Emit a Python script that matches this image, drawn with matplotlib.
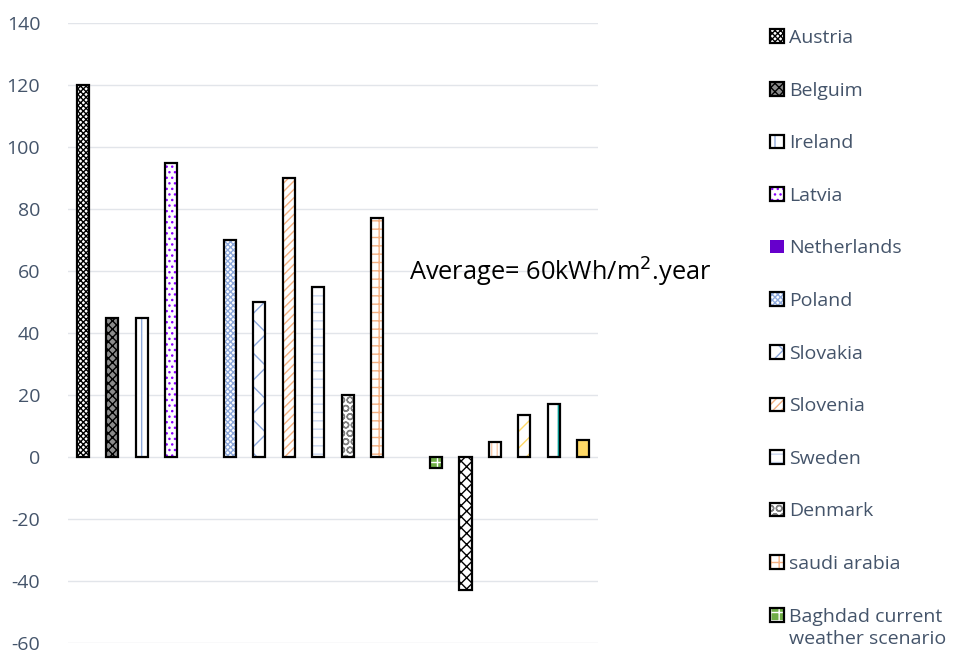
import numpy as np
import matplotlib.pyplot as plt
from matplotlib.legend_handler import HandlerTuple

plt.rcParams['font.family'] = ['Open Sans', 'DejaVu Sans']
plt.rcParams['hatch.linewidth'] = 1.0
plt.rcParams['axes.unicode_minus'] = False

# energy balance per country (kWh/m2.year); Netherlands has no value
countries = ['Austria', 'Belguim', 'Ireland', 'Latvia', 'Netherlands', 'Poland',
             'Slovakia', 'Slovenia', 'Sweden', 'Denmark', 'saudi arabia']
country_values = [120, 45, 45, 95, np.nan, 70, 50, 90, 55, 20, 77]

# Baghdad weather scenarios, the first one is the current weather
baghdad_label = ['Baghdad current', 'weather scenario']
baghdad_values = [-3.5, -43, 5, 13.5, 17, 5.5]

avg_text = 'Average= 60kWh/m$^2$.year'
y_ticks = [-60, -40, -20, 0, 20, 40, 60, 80, 100, 120, 140]

# (face colour, hatch colour, hatch) for every series
country_styles = [
    ('white', 'black', 'xxxxxx'),
    ('#8c8c8c', 'black', 'xxxx'),
    ('white', '#8faadc', '|'),
    ('white', '#8b00ff', '...'),
    ('#6600cc', '#6600cc', ''),
    ('white', '#8faadc', 'xxxxxx'),
    ('white', '#8faadc', 'x'),
    ('white', '#f4b183', '////'),
    ('white', '#c9d6ee', '--'),
    ('white', '#7f7f7f', 'OO'),
    ('white', '#f4b183', '++'),
]
baghdad_styles = [
    ('#70ad47', 'white', '++'),
    ('white', 'black', 'xxx'),
    ('white', '#f8cbad', '|||'),
    ('white', '#ffd966', '//'),
    ('white', '#00a19a', '|'),
    ('#ffd966', '#ffd966', ''),
]

fig = plt.figure(figsize=(9.58, 6.54), dpi=100)
ax = fig.add_axes([68 / 958, 11 / 654, 530 / 958, 620 / 654])

width = 0.41
handles = []


def draw_bar(x, v, style):
    fc, hc, hatch = style
    fill = ax.bar(x, v, width, color=fc, edgecolor=hc, hatch=hatch,
                  linewidth=0, zorder=2)
    edge = ax.bar(x, v, width, fill=False, edgecolor='black',
                  linewidth=1.6, zorder=3)
    return fill[0], edge[0]


for i, (v, st) in enumerate(zip(country_values, country_styles)):
    f, e = draw_bar(i, v, st)
    handles.append((f,) if st[2] == '' else (f, e))

# one empty slot before the Baghdad scenarios
start = len(countries) + 1
for j, (v, st) in enumerate(zip(baghdad_values, baghdad_styles)):
    f, e = draw_bar(start + j, v, st)
    if j == 0:
        handles.append((f, e))

labels = countries + [baghdad_label[0]]

ax.set_xlim(-0.5, start + len(baghdad_values) - 0.5)
ax.set_ylim(-60, 140)
ax.set_yticks(y_ticks)
ax.set_xticks([])
ax.tick_params(axis='y', length=0, labelsize=14, labelcolor='#44546a', pad=20)
ax.yaxis.grid(True, color='#e2e5ea', linewidth=1.0)
ax.set_axisbelow(True)
for s in ax.spines.values():
    s.set_visible(False)

ax.text(409 / 958, 1 - 272 / 654, avg_text, transform=fig.transFigure,
        fontsize=18.3, va='center', ha='left', color='black')

leg = fig.legend(handles, labels, loc='upper left',
                 bbox_to_anchor=(770 / 958, 1 - 29 / 654),
                 handler_map={tuple: HandlerTuple(ndivide=1, pad=0)},
                 frameon=False, fontsize=14, labelcolor='#44546a',
                 handlelength=0.7, handleheight=0.7, handletextpad=0.3,
                 labelspacing=1.78, borderpad=0, borderaxespad=0)

# wrap the last legend label onto a second line under the first
fig.canvas.draw()
last = leg.get_texts()[-1].get_window_extent()
fig.text(last.x0 / 958, (last.y0 - 22) / 654, baghdad_label[1],
         fontsize=14, color='#44546a', ha='left', va='bottom')

fig.savefig('out.png', dpi=100)
